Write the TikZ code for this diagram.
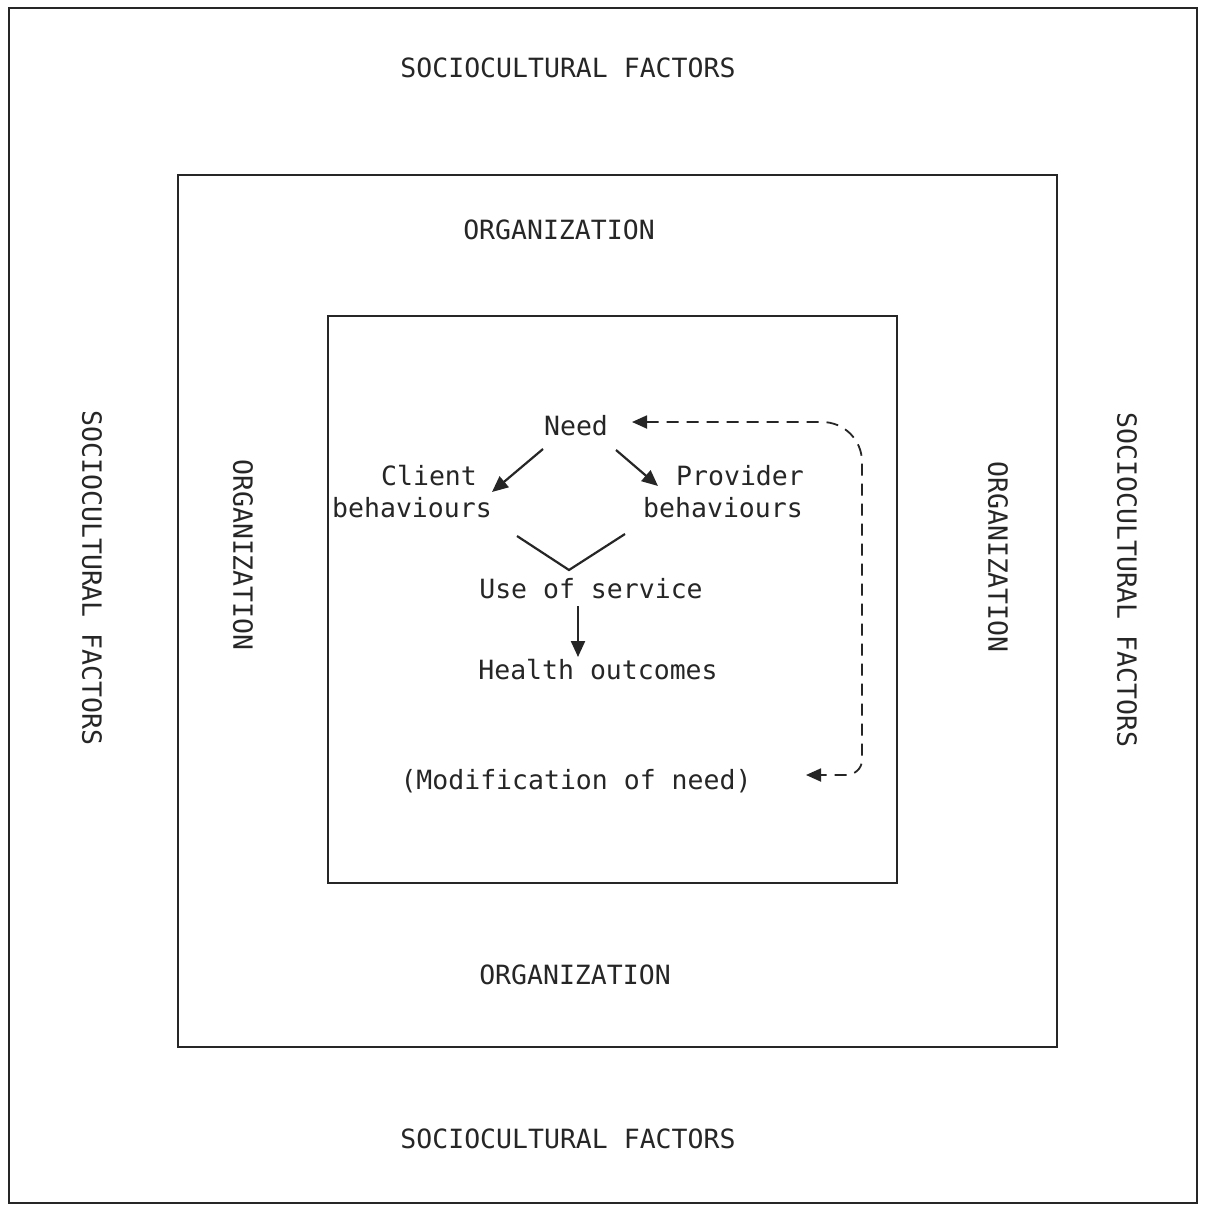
\documentclass[tikz,border=0pt]{standalone}
\usepackage{fontspec}
\setmonofont{DejaVu Sans Mono}
\usetikzlibrary{arrows.meta}
\definecolor{ink}{HTML}{262626}
\tikzset{
  lbl/.style={inner sep=0pt, text=ink, font=\ttfamily\fontsize{26.5}{30}\selectfont},
  frame/.style={draw=ink, line width=2.3pt},
  conn/.style={draw=ink, line width=2.2pt},
  tip/.style={-{Triangle[length=16pt,width=14pt]}},
  dashconn/.style={draw=ink, line width=1.8pt, dash pattern=on 12pt off 8pt},
}
\begin{document}
\begin{tikzpicture}[x=1pt,y=-1pt]
\useasboundingbox (0,0) rectangle (1210,1205);
\fill[white] (0,0) rectangle (1210,1205);
% boxes
\draw[frame] (9,8) rectangle (1197,1203);
\draw[frame] (178,175) rectangle (1057,1047);
\draw[frame] (328,316) rectangle (897,883);
% sociocultural labels
\node[lbl] (sTop) at (568,68) {SOCIOCULTURAL FACTORS};
\node[lbl] (sBot) at (568,1139) {SOCIOCULTURAL FACTORS};
\node[lbl, rotate=-90] (sLeft) at (92,578) {SOCIOCULTURAL FACTORS};
\node[lbl, rotate=-90] (sRight) at (1127,580) {SOCIOCULTURAL FACTORS};
% organization labels
\node[lbl] (oTop) at (559,230) {ORGANIZATION};
\node[lbl] (oBot) at (575,975) {ORGANIZATION};
\node[lbl, rotate=-90] (oLeft) at (243,555) {ORGANIZATION};
\node[lbl, rotate=-90] (oRight) at (998,557) {ORGANIZATION};
% inner content
\node[lbl] (need) at (576,426) {Need};
\node[lbl] (client) at (429,476) {Client};
\node[lbl] (clientb) at (412,508) {behaviours};
\node[lbl] (prov) at (740,476) {Provider};
\node[lbl] (provb) at (723,508) {behaviours};
\node[lbl] (use) at (591,589) {Use of service};
\node[lbl] (health) at (598,670) {Health outcomes};
\node[lbl] (modif) at (576,781) {(Modification of need)};
% connectors
\coordinate (vL) at (517,536);
\coordinate (vM) at (569,570);
\coordinate (vR) at (625,534);
\coordinate (cStart) at (543,449);
\coordinate (cEnd) at (492,492);
\coordinate (pStart) at (616,450);
\coordinate (pEnd) at (658,486);
\coordinate (uStart) at (578,606);
\coordinate (hEnd) at (578,657);
\coordinate (dTip) at (806,775);
\coordinate (nTip) at (632,422);
\draw[conn, tip] (cStart) -- (cEnd);
\draw[conn, tip] (pStart) -- (pEnd);
\draw[conn] (vL) -- (vM) -- (vR);
\draw[conn, tip] (uStart) -- (hEnd);
\draw[dashconn, {Triangle[length=15pt,width=13pt]}-{Triangle[length=15pt,width=13pt]}]
  (nTip) -- (822,422) to[out=0,in=90] (862,462) -- (862,760) to[out=-90,in=0] (846,775) -- (dTip);
\end{tikzpicture}
\end{document}
